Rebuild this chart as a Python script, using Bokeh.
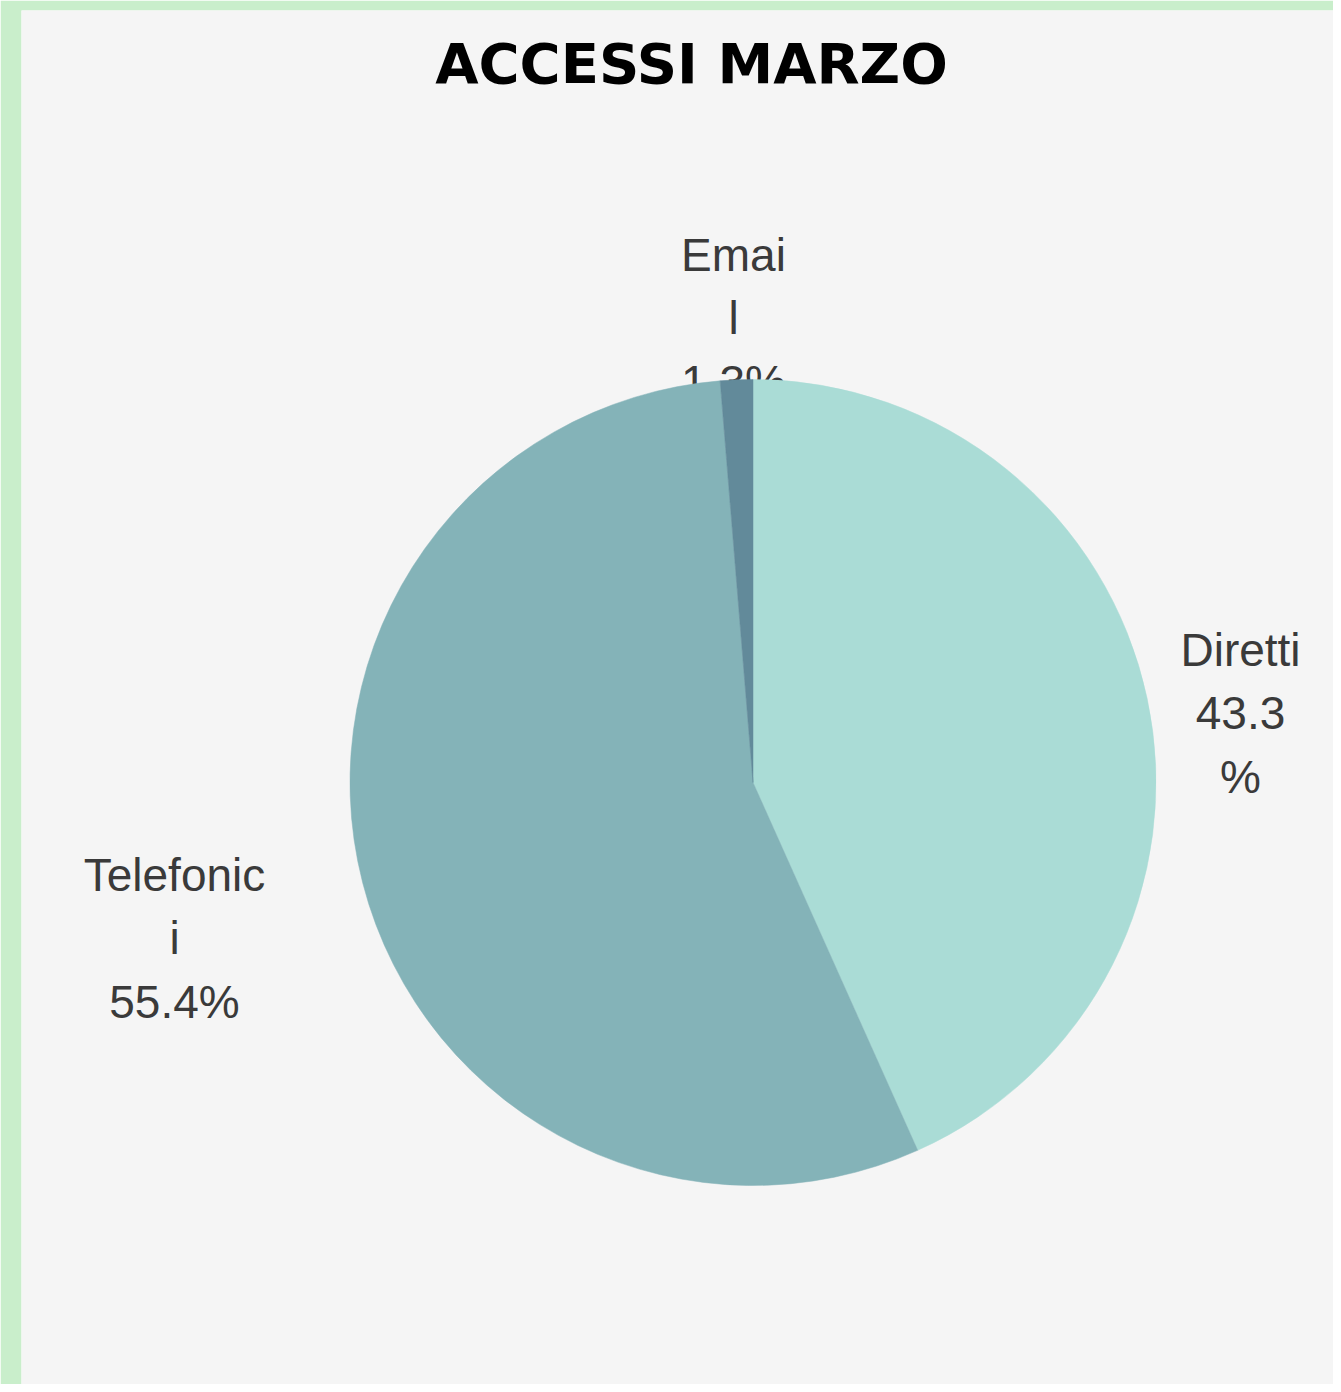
import math
from bokeh.plotting import figure
from bokeh.models import Range1d, ColumnDataSource
from bokeh.core.properties import value
from bokeh.embed import file_html
from bokeh.resources import INLINE

# ---- data ----
title = "ACCESSI MARZO"
categories = ["Diretti", "Telefonici", "Email"]
shares = [43.3, 55.4, 1.3]
label_texts = ["Diretti\n43.3\n%", "Telefonic\ni\n55.4%", "Emai\nl\n1.3%"]
colors = ["#aadcd6", "#84b3b8", "#628a9a"]

# ---- layout (figure pixel space, y measured from top) ----
W, H = 1333, 1384
LEFT, TOP = 21, 10
cx, cy_w, R = 752.5, 782, 403
label_pos = {"Diretti": (1240, 713), "Telefonici": (174, 938), "Email": (733, 318)}

def Y(yw):
    return H - yw

p = figure(width=W, height=H, output_backend="svg", toolbar_location=None,
           x_range=Range1d(LEFT, W), y_range=Range1d(0, H - TOP),
           min_border_left=LEFT, min_border_top=TOP,
           min_border_right=0, min_border_bottom=0,
           border_fill_color="#c9eecb", background_fill_color="#f5f5f5",
           outline_line_color=None)
p.axis.visible = False
p.grid.visible = False

# labels (drawn first so pie covers overflow, as in the reference)
lsrc = ColumnDataSource(dict(
    x=[label_pos[c][0] for c in categories],
    y=[Y(label_pos[c][1]) for c in categories],
    t=label_texts))
p.text(x="x", y="y", text="t", source=lsrc, text_align="center", text_baseline="middle",
       text_font=value("Liberation Sans"), text_font_size="46px", text_color="#3a3a3a",
       text_line_height=1.23)

# pie wedges, clockwise from top
total = sum(shares)
starts, ends = [], []
acc = 0.0
for s in shares:
    a0 = math.pi / 2 - 2 * math.pi * acc / total
    acc += s
    a1 = math.pi / 2 - 2 * math.pi * acc / total
    starts.append(a0)
    ends.append(a1)
wsrc = ColumnDataSource(dict(x=[cx] * len(shares), y=[Y(cy_w)] * len(shares),
                             start=starts, end=ends, color=colors, cat=categories))
p.wedge(x="x", y="y", radius=R, radius_units="screen", start_angle="start", end_angle="end",
        direction="clock", fill_color="color", line_color="color", line_width=0.5, source=wsrc)

# title
p.text(x=[691], y=[Y(63)], text=[title], text_align="center", text_baseline="middle",
       text_font=value("DejaVu Sans"), text_font_style="bold", text_font_size="56px",
       text_color="#000000")

open("out.html", "w").write(file_html(p, INLINE))
